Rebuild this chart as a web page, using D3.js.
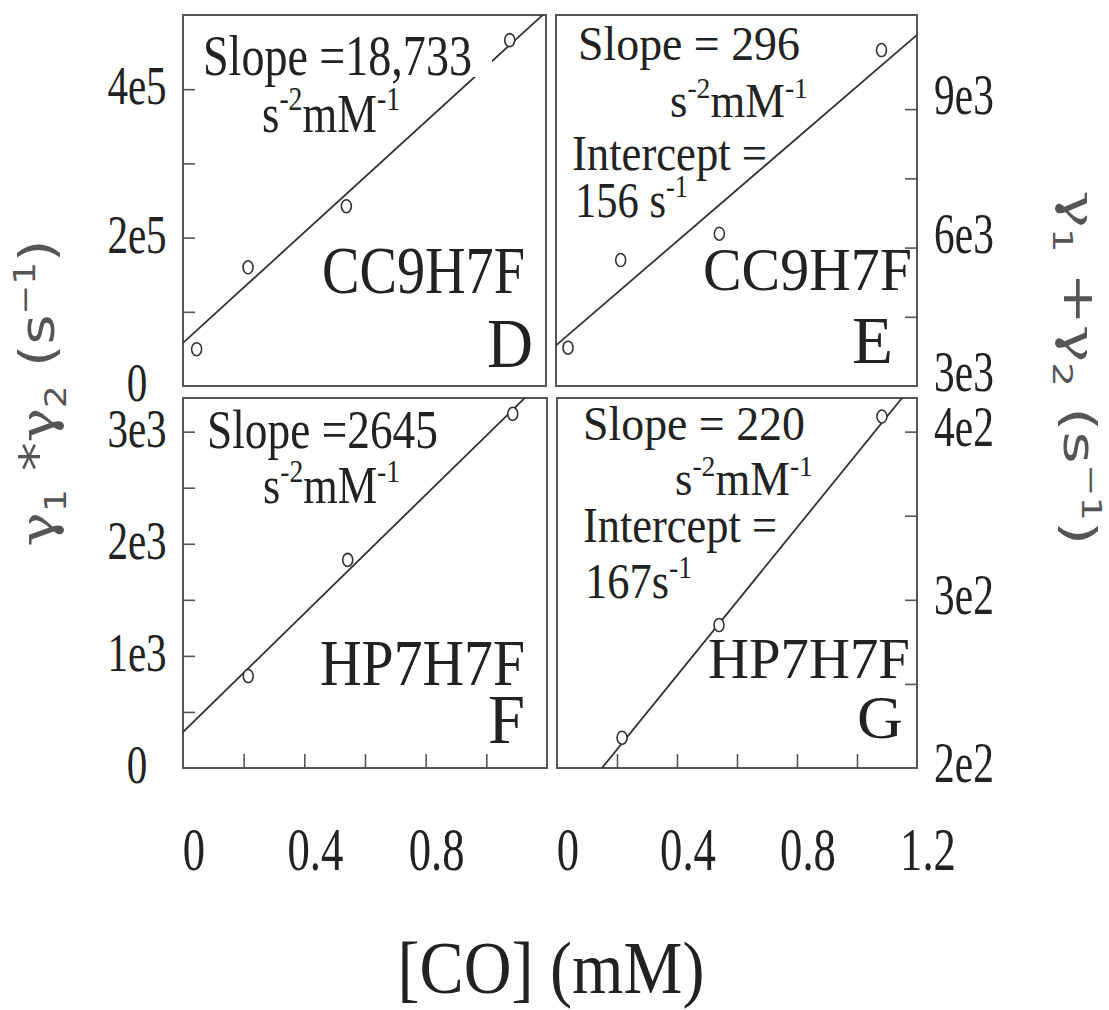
<!DOCTYPE html>
<html>
<head>
<meta charset="utf-8">
<script src="https://cdn.jsdelivr.net/npm/d3@7"></script>
<style>
  html, body { margin: 0; padding: 0; background: #fff; }
  svg { display: block; }
</style>
</head>
<body>
<div id="chart"></div>
<script>
// --- values ---
const coD = [0.045, 0.215, 0.54, 1.08];
const rateD = [49600, 160000, 242300, 466200];
const coE = [0.04, 0.215, 0.543, 1.082];
const rateE = [3830, 5730, 6300, 10280];
const coF = [0.215, 0.543, 1.087];
const rateF = [820, 1856, 3159];
const coG = [0.217, 0.54, 1.083];
const rateG = [218, 285, 409];

// fitted straight lines (intercept, slope) per panel D,E,F,G
const fitIntercept = [58100, 3880, 320, 167];
const fitSlope = [371650, 5608, 2645, 220];

const panelLetters = ["D", "E", "F", "G"];
const constructs = ["CC9H7F", "CC9H7F", "HP7H7F", "HP7H7F"];
const slopeText = ["Slope =18,733", "Slope = 296", "Slope =2645", "Slope = 220"];
const interceptValue = [null, "156 s", null, "167s"];

const xDomain = [0, 1.2];
const xTickVals = [0.2, 0.4, 0.6, 0.8, 1.0];
const xLabelVals = [[0, 0.4, 0.8], [0, 0.4, 0.8, 1.2]];
const xLabelText = [["0", "0.4", "0.8"], ["0", "0.4", "0.8", "1.2"]];

const yDomains = [[0, 500000], [3000, 11040], [0, 3300], [200, 420]];
const yTickVals = [
  [100000, 200000, 300000, 400000],
  [4500, 6000, 7500, 9000],
  [500, 1000, 1500, 2000, 2500, 3000],
  [250, 300, 350, 400]
];
const yLabelVals = [[0, 200000, 400000], [3000, 6000, 9000], [0, 1000, 2000, 3000], [200, 300, 400]];
const yLabelText = [["0", "2e5", "4e5"], ["3e3", "6e3", "9e3"], ["0", "1e3", "2e3", "3e3"], ["2e2", "3e2", "4e2"]];

const xs = [coD, coE, coF, coG];
const ys = [rateD, rateE, rateF, rateG];

// --- layout ---
const width = 1109, height = 1010;
const serif = "'Liberation Serif', 'Times New Roman', serif";
const sans = "'DejaVu Sans', 'Liberation Sans', sans-serif";
const ink = "#222";

const boxes = [
  { x0: 183, x1: 546, y0: 15, y1: 386, side: "left" },
  { x0: 556, x1: 917, y0: 15, y1: 386, side: "right" },
  { x0: 183, x1: 547, y0: 398, y1: 768, side: "left" },
  { x0: 557, x1: 917, y0: 398, y1: 768, side: "right" }
];

// annotation placement: left x, baseline y, target width, font size
const textPos = [
  { slope: [203, 75, 269, 56], unit: [262, 132, 138, 54], icpt: null, ival: null,
    name: [322, 293, 203, 68], letter: [487, 367, 46, 70] },
  { slope: [578, 60, 222, 48], unit: [670, 117, 138, 48], icpt: [572, 170, 195, 50], ival: [575, 217, 113, 50],
    name: [703, 290, 209, 62], letter: [852, 363, 41, 68] },
  { slope: [207, 448, 231, 55], unit: [263, 503, 137, 52], icpt: null, ival: null,
    name: [320, 685, 205, 65], letter: [488, 743, 37, 70] },
  { slope: [583, 440, 222, 48], unit: [675, 495, 138, 48], icpt: [583, 542, 194, 50], ival: [585, 598, 107, 50],
    name: [708, 678, 202, 58], letter: [857, 738, 46, 62] }
];

const svg = d3.select("#chart").append("svg")
  .attr("width", width)
  .attr("height", height)
  .attr("viewBox", `0 0 ${width} ${height}`);

// text with sub/superscripts, squeezed to a target width
function richText(parent, parts, x, y, fs, w, opts = {}) {
  const t = parent.append("text")
    .attr("font-family", opts.family || serif)
    .attr("font-size", fs)
    .attr("fill", opts.fill || ink)
    .attr("text-anchor", opts.anchor || "start");
  let shift = 0;
  parts.forEach(p => {
    const kind = p[1] || "n";
    const off = kind === "sup" ? -0.4 * fs : kind === "sub" ? 0.24 * fs : 0;
    const ts = t.append("tspan")
      .attr("dy", off - shift)
      .attr("font-size", kind === "n" ? fs : fs * 0.62)
      .text(p[0]);
    if (p[2]) ts.attr("font-family", p[2]);
    shift = off;
  });
  const len = t.node().getComputedTextLength();
  const sx = w / len;
  const rot = opts.rotate ? ` rotate(${opts.rotate})` : "";
  t.attr("transform", `translate(${x},${y})${rot} scale(${sx},1)`);
  return t;
}

function plainLabel(parent, txt, cx, y, fs, sx) {
  parent.append("text")
    .attr("font-family", serif)
    .attr("font-size", fs)
    .attr("fill", ink)
    .attr("text-anchor", "middle")
    .attr("transform", `translate(${cx},${y}) scale(${sx},1)`)
    .text(txt);
}

boxes.forEach((b, i) => {
  const x = d3.scaleLinear().domain(xDomain).range([b.x0, b.x1]);
  const y = d3.scaleLinear().domain(yDomains[i]).range([b.y1, b.y0]);
  const g = svg.append("g");

  svg.append("clipPath").attr("id", "clip" + i)
    .append("rect")
    .attr("x", b.x0).attr("y", b.y0)
    .attr("width", b.x1 - b.x0).attr("height", b.y1 - b.y0);

  // frame
  g.append("rect")
    .attr("x", b.x0).attr("y", b.y0)
    .attr("width", b.x1 - b.x0).attr("height", b.y1 - b.y0)
    .attr("fill", "none")
    .attr("stroke", "#555")
    .attr("stroke-width", 2);

  // inside ticks on the y axis
  const yAxis = (b.side === "left" ? d3.axisLeft(y) : d3.axisRight(y))
    .tickValues(yTickVals[i]).tickSize(-12).tickFormat("");
  g.append("g")
    .attr("transform", `translate(${b.side === "left" ? b.x0 : b.x1},0)`)
    .call(yAxis)
    .call(a => a.select(".domain").remove())
    .selectAll("line").attr("stroke", "#555").attr("stroke-width", 1.6);

  // bottom row gets x ticks and labels
  if (i >= 2) {
    g.append("g")
      .attr("transform", `translate(0,${b.y1})`)
      .call(d3.axisBottom(x).tickValues(xTickVals).tickSize(-14).tickFormat(""))
      .call(a => a.select(".domain").remove())
      .selectAll("line").attr("stroke", "#555").attr("stroke-width", 1.6);

    xLabelVals[i - 2].forEach((v, k) => {
      plainLabel(svg, xLabelText[i - 2][k], x(v) + 11, 870, 62, 0.72);
    });
  }

  // y tick labels
  yLabelVals[i].forEach((v, k) => {
    if (b.side === "left") plainLabel(svg, yLabelText[i][k], 137, y(v) + 15, 54, 0.76);
    else plainLabel(svg, yLabelText[i][k], 964, y(v) + (i === 1 ? 5 : 14), 56, 0.74);
  });

  // fit line
  const line = d3.line().x(d => x(d)).y(d => y(fitIntercept[i] + fitSlope[i] * d));
  g.append("path")
    .datum(xDomain)
    .attr("clip-path", `url(#clip${i})`)
    .attr("d", line)
    .attr("fill", "none")
    .attr("stroke", "#333")
    .attr("stroke-width", 1.8);

  const tp = textPos[i];

  // panel D's slope label sits on a white patch that breaks the line
  if (i === 0) {
    g.append("rect")
      .attr("x", tp.slope[0]).attr("y", tp.slope[1] - 44)
      .attr("width", tp.slope[2] + 20).attr("height", 46)
      .attr("fill", "#fff");
  }

  richText(g, [[slopeText[i]]], tp.slope[0], tp.slope[1], tp.slope[3], tp.slope[2]);
  richText(g, [["s"], ["-2", "sup"], ["mM"], ["-1", "sup"]], tp.unit[0], tp.unit[1], tp.unit[3], tp.unit[2]);
  if (tp.icpt) {
    richText(g, [["Intercept ="]], tp.icpt[0], tp.icpt[1], tp.icpt[3], tp.icpt[2]);
    richText(g, [[interceptValue[i]], ["-1", "sup"]], tp.ival[0], tp.ival[1], tp.ival[3], tp.ival[2]);
  }
  richText(g, [[constructs[i]]], tp.name[0], tp.name[1], tp.name[3], tp.name[2]);
  richText(g, [[panelLetters[i]]], tp.letter[0], tp.letter[1], tp.letter[3], tp.letter[2]);

  // data points
  g.selectAll("ellipse")
    .data(xs[i].map((c, k) => ({ c: c, r: ys[i][k] })))
    .join("ellipse")
    .attr("cx", d => x(d.c))
    .attr("cy", d => y(d.r))
    .attr("rx", 5)
    .attr("ry", 6.5)
    .attr("fill", "#fff")
    .attr("stroke", "#333")
    .attr("stroke-width", 1.6);
});

// axis titles
richText(svg, [["[CO] (mM)"]], 551, 993, 74, 307, { anchor: "middle" });

const gam = "'DejaVu Serif', 'Liberation Serif', serif";
richText(svg,
  [["γ", "n", gam], ["1", "sub"], [" *"], ["γ", "n", gam], ["2", "sub"], ["  (s"], ["−1", "sup"], [")"]],
  54, 393, 48, 307, { anchor: "middle", rotate: -90, family: sans, fill: "#555" });
richText(svg,
  [["γ", "n", gam], ["1", "sub"], [" +"], ["γ", "n", gam], ["2", "sub"], ["  (s"], ["−1", "sup"], [")"]],
  1064, 368, 44, 355, { anchor: "middle", rotate: 90, family: sans, fill: "#555" });
</script>
</body>
</html>
